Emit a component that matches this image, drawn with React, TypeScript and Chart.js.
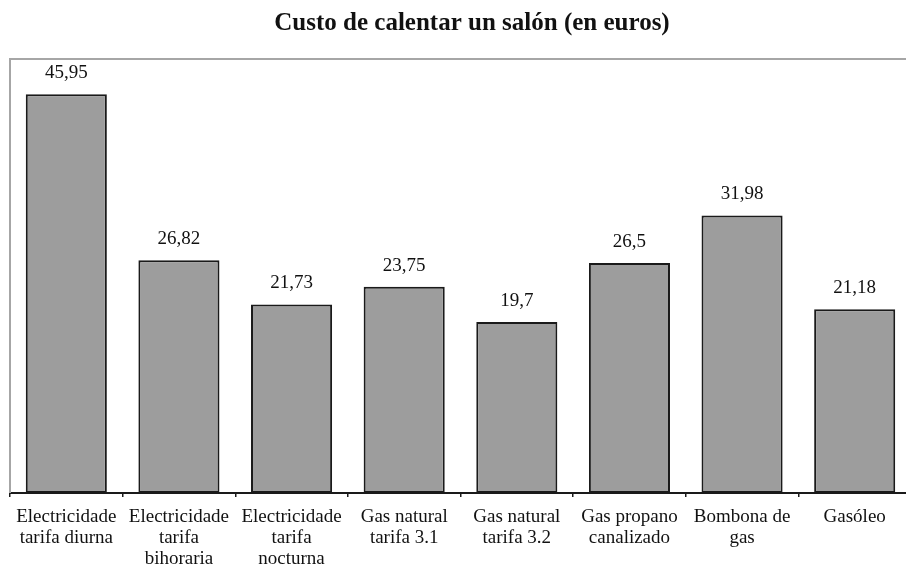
import React, { useEffect, useRef } from "react";
import { Chart, registerables } from "chart.js";

Chart.register(...registerables);

const TITLE = "Custo de calentar un salón (en euros)";
const CATEGORIES: string[][] = [
  ["Electricidade", "tarifa diurna"],
  ["Electricidade", "tarifa", "bihoraria"],
  ["Electricidade", "tarifa", "nocturna"],
  ["Gas natural", "tarifa 3.1"],
  ["Gas natural", "tarifa 3.2"],
  ["Gas propano", "canalizado"],
  ["Bombona de", "gas"],
  ["Gasóleo"],
];
const VALUES: number[] = [45.95, 26.82, 21.73, 23.75, 19.7, 26.5, 31.98, 21.18];
const Y_MIN = 0;
const Y_MAX = 50;

const FONT = "'Liberation Serif', 'Times New Roman', serif";

const titlePlugin = {
  id: "customTitle",
  afterDraw(chart: any) {
    const { ctx } = chart;
    ctx.save();
    ctx.fillStyle = "#111";
    ctx.font = `bold 25px ${FONT}`;
    ctx.textAlign = "center";
    ctx.textBaseline = "alphabetic";
    ctx.fillText(TITLE, 472, 30);
    ctx.restore();
  },
};

const framePlugin = {
  id: "frame",
  beforeDatasetsDraw(chart: any) {
    const { ctx, chartArea } = chart;
    ctx.save();
    ctx.strokeStyle = "#a6a6a6";
    ctx.lineWidth = 2;
    ctx.beginPath();
    ctx.moveTo(chartArea.left, chartArea.bottom);
    ctx.lineTo(chartArea.left, chartArea.top);
    ctx.lineTo(chartArea.right + 10, chartArea.top);
    ctx.stroke();
    ctx.restore();
  },
};

const valueLabelPlugin = {
  id: "valueLabels",
  afterDatasetsDraw(chart: any) {
    const { ctx } = chart;
    const meta = chart.getDatasetMeta(0);
    ctx.save();
    ctx.fillStyle = "#111";
    ctx.font = `19px ${FONT}`;
    ctx.textAlign = "center";
    ctx.textBaseline = "alphabetic";
    meta.data.forEach((bar: any, i: number) => {
      const txt = String(VALUES[i]).replace(".", ",");
      ctx.fillText(txt, bar.x, bar.y - 16);
    });
    ctx.restore();
  },
};

export default function App() {
  const ref = useRef<HTMLCanvasElement | null>(null);

  useEffect(() => {
    if (!ref.current) return;
    const chart = new Chart(ref.current, {
      type: "bar",
      data: {
        labels: CATEGORIES,
        datasets: [
          {
            data: VALUES,
            backgroundColor: "#9d9d9d",
            borderColor: "#1a1a1a",
            borderWidth: 2,
            borderSkipped: false,
            categoryPercentage: 1,
            barPercentage: 0.72,
          },
        ],
      },
      options: {
        animation: false,
        responsive: false,
        devicePixelRatio: 1,
        layout: { padding: { left: 10, right: 4, top: 59, bottom: 0 } },
        plugins: {
          legend: { display: false },
          tooltip: { enabled: false },
          title: { display: false },
        },
        scales: {
          x: {
            offset: true,
            grid: {
              display: true,
              offset: true,
              drawOnChartArea: false,
              drawTicks: true,
              tickLength: 4,
              color: "#1a1a1a",
              lineWidth: 1.5,
            },
            border: { display: true, color: "#1a1a1a", width: 2 },
            ticks: {
              color: "#111",
              font: { family: FONT, size: 19, lineHeight: 1.1 },
              padding: 10,
              maxRotation: 0,
              autoSkip: false,
            },
            afterFit: (scale: any) => {
              scale.height = 72;
            },
          },
          y: {
            display: false,
            min: Y_MIN,
            max: Y_MAX,
          },
        },
      },
      plugins: [framePlugin, valueLabelPlugin, titlePlugin],
    });
    return () => chart.destroy();
  }, []);

  return (
    <div
      style={{
        position: "fixed",
        left: 0,
        top: 0,
        width: 906,
        height: 565,
        overflow: "hidden",
        background: "#fff",
      }}
    >
      <canvas ref={ref} width={915} height={565} style={{ display: "block" }} />
    </div>
  );
}
